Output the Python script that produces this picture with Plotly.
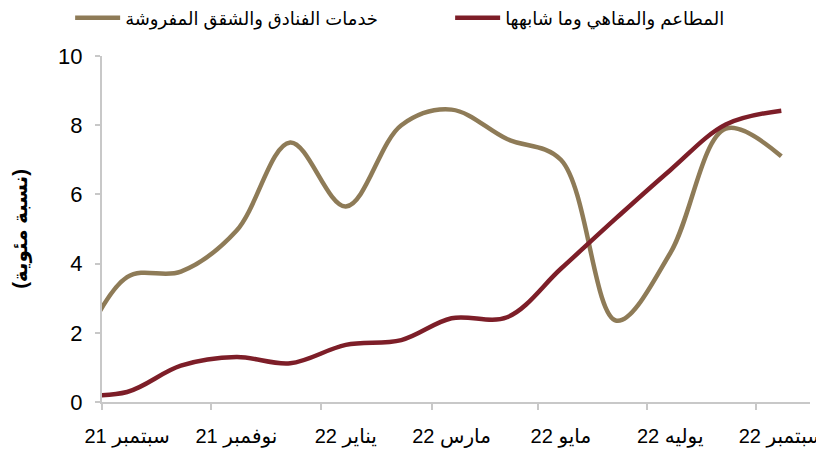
import plotly.graph_objects as go

# Monthly observations (Aug 2021 point lies just left of the visible range)
months = ["2021-08-01", "2021-09-01", "2021-10-01", "2021-11-01", "2021-12-01",
          "2022-01-01", "2022-02-01", "2022-03-01", "2022-04-01", "2022-05-01",
          "2022-06-01", "2022-07-01", "2022-08-01", "2022-09-01"]

hotels = [0.9, 3.61, 3.77, 4.95, 7.5, 5.65, 8.0, 8.45, 7.6, 7.0, 2.35, 4.3, 7.9, 7.1]
restaurants = [0.2, 0.29, 1.05, 1.3, 1.12, 1.65, 1.79, 2.42, 2.45, 3.85, 5.32, 6.7, 8.02, 8.42]

hotels_name = "خدمات الفنادق والشقق المفروشة"
restaurants_name = "المطاعم والمقاهي وما شابهها"

tick_dates = ["2021-09-01", "2021-11-01", "2022-01-01", "2022-03-01",
              "2022-05-01", "2022-07-01", "2022-09-01"]
tick_labels = ["سبتمبر 21", "نوفمبر 21", "يناير 22", "مارس 22",
               "مايو 22", "يوليه 22", "سبتمبر 22"]
y_title = "(نسبة مئوية)"

TAN = "#8E7B57"
RED = "#7D1E28"
AXIS = "#C8C8C8"
FONT = "Liberation Sans, DejaVu Sans, sans-serif"

fig = go.Figure()
fig.add_trace(go.Scatter(x=months, y=hotels, name=hotels_name, mode="lines",
                         line=dict(color=TAN, width=4.5, shape="spline", smoothing=1.0),
                         cliponaxis=True))
fig.add_trace(go.Scatter(x=months, y=restaurants, name=restaurants_name, mode="lines",
                         line=dict(color=RED, width=4.5, shape="spline", smoothing=1.0),
                         cliponaxis=True))

fig.update_layout(
    width=824, height=454,
    margin=dict(l=94, r=22, t=48, b=60, autoexpand=False),
    paper_bgcolor="white", plot_bgcolor="white",
    font=dict(family=FONT, color="black", size=18),
    showlegend=True,
    legend=dict(orientation="h", x=-0.045, xanchor="left", y=1.11, yanchor="middle",
                font=dict(size=18, family=FONT), entrywidth=320, entrywidthmode="pixels",
                itemwidth=45, bgcolor="rgba(0,0,0,0)"),
    xaxis=dict(
        type="date",
        range=["2021-08-18", "2022-09-17"],
        tickvals=tick_dates, ticktext=tick_labels,
        ticks="", showgrid=False, zeroline=False,
        showline=True, linecolor=AXIS, linewidth=2,
        tickfont=dict(size=20, family=FONT), ticklabelstandoff=15,
        minor=dict(tick0="2021-08-18", dtick="M2", ticks="outside", ticklen=6,
                   tickcolor=AXIS, tickwidth=2, showgrid=False),
    ),
    yaxis=dict(
        range=[0, 10], tickvals=[0, 2, 4, 6, 8, 10],
        ticks="outside", ticklen=5, tickcolor=AXIS, tickwidth=2,
        showgrid=False, zeroline=False,
        showline=True, linecolor=AXIS, linewidth=2,
        tickfont=dict(size=22, family=FONT), ticklabelstandoff=8,
    ),
)

fig.add_annotation(text="<b>" + y_title + "</b>", xref="paper", yref="paper",
                   x=-0.116, y=0.5, xanchor="center", yanchor="middle",
                   textangle=-90, showarrow=False,
                   font=dict(size=20, family=FONT, color="black"))

fig.write_html("out.html")
